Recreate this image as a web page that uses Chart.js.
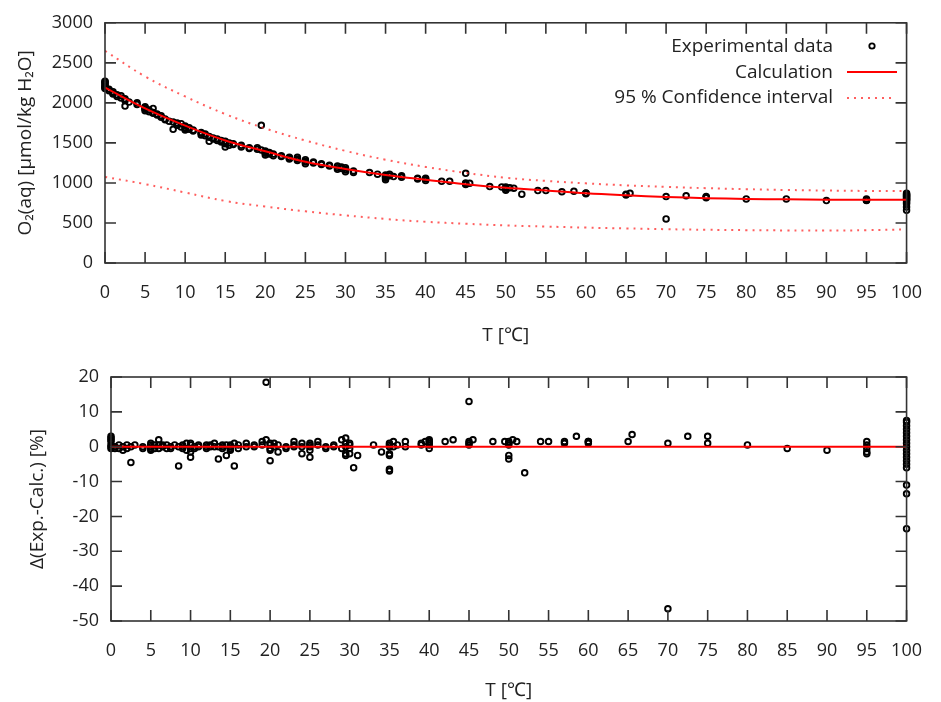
<!DOCTYPE html>
<html>
<head>
<meta charset="utf-8">
<script src="https://cdn.jsdelivr.net/npm/chart.js@4.4.0/dist/chart.umd.min.js"></script>
<style>
body { margin:0; background:#fff; width:941px; height:702px; overflow:hidden; }
#top { position:absolute; left:0; top:0; }
#bot { position:absolute; left:0; top:350px; }
</style>
</head>
<body>
<canvas id="top" width="941" height="350"></canvas>
<canvas id="bot" width="941" height="352"></canvas>
<script>
// courbe calculée + intervalle de confiance (tous les 5 °C)
const tempCalc = [0, 5, 10, 15, 20, 25, 30, 35, 40, 45, 50, 55, 60, 65, 70, 75, 80, 85, 90, 95, 100];
const o2Calc  = [2190, 1930, 1715, 1530, 1395, 1265, 1175, 1100, 1040, 985, 940, 905, 870, 845, 825, 810, 800, 795, 790, 790, 790];
const o2Upper = [2650, 2330, 2080, 1860, 1680, 1530, 1400, 1290, 1200, 1125, 1065, 1025, 995, 970, 950, 935, 922, 912, 905, 900, 898];
const o2Lower = [1075, 985, 880, 775, 705, 645, 595, 550, 515, 490, 470, 455, 442, 432, 422, 415, 410, 407, 405, 410, 420];

// données expérimentales (graph du haut)
const tempExp = [
  0, 0, 0, 0, 0, 0, 0, 0,
  0.5, 0.5, 1, 1, 1, 1.5, 1.5, 2, 2,
  2.5, 2.5, 2.5, 3, 4, 4,
  5, 5, 5, 5, 5, 5.5, 5.5,
  6, 6, 6, 6.5, 6.5, 7, 7, 7.5, 7.5, 8,
  8.5, 8.5, 9, 9, 9, 9.5, 9.5,
  10, 10, 10, 10, 10.5, 10.5, 11, 11,
  12, 12, 12, 12.5, 12.5, 13, 13, 13, 13.5, 13.5,
  14, 14, 14.5, 14.5, 15, 15, 15, 15, 15.5, 15.5,
  16, 16, 17, 17, 18, 18, 19, 19, 19.5, 19.5,
  20, 20, 20, 20, 20, 20.5, 20.5, 21, 21, 22, 22,
  23, 23, 23, 24, 24, 24, 25, 25, 25, 25,
  26, 26, 27, 27, 28, 28, 29, 29, 29, 29.5, 29.5,
  30, 30, 30, 30, 31, 31, 33, 34,
  35, 35, 35, 35, 35, 35, 35.5, 35.5, 36, 37, 37,
  39, 39, 40, 40, 40, 42, 43,
  45, 45, 45, 45, 45.5, 48, 49.5,
  50, 50, 50, 50, 50.5, 51, 52, 54, 55, 57, 58.5,
  60, 60, 60, 65, 65, 65.5, 70, 70, 72.5,
  75, 75, 75, 80, 85, 90, 95, 95, 95, 95,
  100, 100, 100, 100, 100, 100, 100, 100, 100, 100, 100, 100, 100, 100
];
const o2Exp = [
  2270, 2250, 2230, 2210, 2200, 2190, 2180, 2260,
  2170, 2150, 2140, 2120, 2110, 2100, 2080, 2090, 2060,
  1960, 2050, 2030, 2010, 2000, 1980,
  1950, 1930, 1920, 1900, 1940, 1910, 1890,
  1930, 1880, 1870, 1860, 1850, 1840, 1820, 1800, 1790, 1770,
  1670, 1760, 1750, 1730, 1720, 1740, 1700,
  1690, 1660, 1710, 1680, 1690, 1670, 1660, 1650,
  1630, 1620, 1600, 1610, 1590, 1580, 1520, 1570, 1560, 1550,
  1550, 1530, 1530, 1510, 1500, 1450, 1520, 1490, 1470, 1500,
  1490, 1480, 1470, 1450, 1440, 1430, 1420, 1440, 1720, 1410,
  1400, 1380, 1350, 1390, 1370, 1380, 1360, 1360, 1340, 1340, 1330,
  1320, 1310, 1300, 1300, 1280, 1320, 1290, 1260, 1240, 1270,
  1260, 1250, 1240, 1230, 1220, 1210, 1210, 1190, 1170, 1200, 1180,
  1190, 1160, 1140, 1170, 1150, 1130, 1130, 1110,
  1100, 1080, 1060, 1040, 1090, 1070, 1090, 1110, 1080, 1090, 1070,
  1060, 1050, 1050, 1030, 1060, 1020, 1020,
  1120, 990, 980, 1000, 995, 955, 950,
  950, 920, 910, 940, 940, 935, 860, 905, 905, 890, 895,
  870, 865, 875, 850, 860, 870, 830, 550, 840,
  820, 830, 815, 800, 800, 780, 800, 790, 785, 780,
  870, 860, 850, 840, 830, 820, 810, 800, 790, 780, 760, 740, 700, 660
];

// écarts exp.-calc. en % (graph du bas)
const tempDev = [
  0, 0, 0, 0, 0, 0, 0, 0.5, 0.5, 1, 1, 1.5, 1.5, 2, 2, 2.5, 2.5, 3, 4, 4,
  5, 5, 5, 5, 5, 5.5, 5.5, 6, 6, 6, 6.5, 6.5, 7, 7, 7.5, 7.5, 8,
  8.5, 8.5, 9, 9, 9, 9.5, 9.5, 10, 10, 10, 10, 10, 10.5, 10.5, 11, 11,
  12, 12, 12, 12.5, 12.5, 13, 13, 13.5, 13.5, 14, 14, 14, 14.5, 14.5,
  15, 15, 15, 15, 15.5, 15.5, 16, 16, 17, 17, 18, 18, 19, 19, 19.5, 19.5,
  20, 20, 20, 20, 20, 20.5, 20.5, 21, 21, 22, 22, 23, 23, 23, 24, 24, 24,
  25, 25, 25, 25, 25, 26, 26, 27, 27, 28, 28, 29, 29,
  29.5, 29.5, 29.5, 29.5, 29.5, 30, 30, 30, 30, 30.5, 31, 33, 34,
  35, 35, 35, 35, 35, 35, 35, 35.5, 35.5, 36, 37, 37, 39, 39, 39.5,
  40, 40, 40, 40, 40, 42, 43, 45, 45, 45, 45, 45.5, 48, 49.5,
  50, 50, 50, 50, 50, 50.5, 51, 52, 54, 55, 57, 57, 58.5, 60, 60, 60,
  65, 65.5, 70, 70, 72.5, 75, 75, 80, 85, 90, 95, 95, 95, 95, 95,
  100, 100, 100, 100, 100, 100, 100, 100, 100, 100, 100, 100, 100, 100, 100, 100, 100, 100
];
const devExp = [
  3, 2.5, 2, 1.5, 0.5, 0, -0.5, 0, -0.5, 0.5, -0.5, 0, -1, 0.5, -0.5, -4.5, 0, 0.5, 0, -0.5,
  1, 0, -0.5, -1, 0.5, 0.5, -0.5, 2, 0.5, -0.5, 0, 0.5, -0.5, 0.5, 0, -0.5, 0.5,
  -5.5, 0, 0.5, -0.5, 0, 1, -1, -3, -1.5, 0.5, -0.5, 1, 0, -0.5, 0.5, 0,
  0, -0.5, 0.5, 0, 0.5, 1, 0, -3.5, 0, 0, -0.5, 0.5, -2.5, 0.5,
  -1, 0, 0.5, -0.5, -5.5, 1, 0.5, -0.5, 1, 0, 0, 0.5, 1.5, 0.5, 18.5, 2,
  -4, -1, 0.5, -0.5, 1, 1, 0, 0.5, -1.5, 0, -0.5, 0.5, 1.5, 0, -2, 0, 1,
  -3, 1, 0, -1, 0.5, 0.5, 1.5, 0, -0.5, 0, 0.5, 2, -0.5,
  -2.5, -2, 1, 2.5, 0, -2, 0.5, 1, -0.5, -6, -2.5, 0.5, -1.5,
  -7, -6.5, -2, -2.5, 0, 0.5, 1, 1.5, 0, 0.5, 0, 1.5, 1, 0.5, 1.5,
  1, 0.5, 2, -0.5, 1.5, 1.5, 2, 13, 1.5, 1, 0.5, 2, 1.5, 1.5,
  -2.5, -3.5, 1, 0.5, 1.5, 2, 1.5, -7.5, 1.5, 1.5, 1.5, 1, 3, 1.5, 1, 1.5,
  1.5, 3.5, 1, -46.5, 3, 1, 3, 0.5, -0.5, -1, 1.5, 0.5, -0.5, -1.5, -2,
  7.5, 7, 6, 5, 4, 3, 2, 1, 0, -1, -2, -3, -4, -5, -6, -11, -13.5, -23.5
];

const legendLabels = ['Experimental data', 'Calculation', '95 % Confidence interval'];

Chart.defaults.font.family = "'Open Sans', sans-serif";
Chart.defaults.color = '#222';

const toPts = (xs, ys) => xs.map((x, i) => ({ x: x, y: ys[i] }));

// cadre + graduations vers l'intérieur sur les 4 côtés
const boxPlugin = {
  id: 'box',
  afterDraw(chart) {
    const { ctx, chartArea: a, scales: { x, y } } = chart;
    ctx.save();
    ctx.strokeStyle = '#333';
    ctx.lineWidth = 1.6;
    ctx.strokeRect(a.left, a.top, a.right - a.left, a.bottom - a.top);
    ctx.beginPath();
    x.ticks.forEach(t => {
      const px = x.getPixelForValue(t.value);
      ctx.moveTo(px, a.bottom); ctx.lineTo(px, a.bottom - 11);
      ctx.moveTo(px, a.top); ctx.lineTo(px, a.top + 11);
    });
    y.ticks.forEach(t => {
      const py = y.getPixelForValue(t.value);
      ctx.moveTo(a.left, py); ctx.lineTo(a.left + 11, py);
      ctx.moveTo(a.right, py); ctx.lineTo(a.right - 11, py);
    });
    ctx.stroke();
    ctx.restore();
  }
};

// légende à droite, texte aligné à droite puis symbole
const legendPlugin = {
  id: 'legendRight',
  afterDraw(chart) {
    const ctx = chart.ctx;
    ctx.save();
    ctx.font = "19px 'Open Sans', sans-serif";
    ctx.fillStyle = '#222';
    ctx.textAlign = 'right';
    ctx.textBaseline = 'middle';
    legendLabels.forEach((txt, i) => ctx.fillText(txt, 833, 47 + i * 25.5));
    ctx.strokeStyle = '#000';
    ctx.lineWidth = 1.8;
    ctx.beginPath(); ctx.arc(872, 46, 2.7, 0, Math.PI * 2); ctx.stroke();
    ctx.strokeStyle = '#ff0000';
    ctx.lineWidth = 2;
    ctx.beginPath(); ctx.moveTo(847, 72); ctx.lineTo(897, 72); ctx.stroke();
    ctx.strokeStyle = 'rgba(255,40,40,0.75)';
    ctx.setLineDash([2, 5]);
    ctx.beginPath(); ctx.moveTo(847, 98); ctx.lineTo(895, 98); ctx.stroke();
    ctx.restore();
  }
};

function axes(yMin, yMax, yStep, yTitle, yWidth, xHeight, yTitlePad, xTitlePad) {
  return {
    x: {
      type: 'linear', min: 0, max: 100,
      grid: { display: false, drawTicks: false }, border: { display: false },
      ticks: { stepSize: 5, padding: 19, font: { size: 18 }, color: '#222', callback: v => String(v) },
      title: { display: true, text: 'T [℃]', font: { size: 19 }, color: '#222', padding: { top: 0, bottom: xTitlePad } },
      afterFit: s => { s.height = xHeight; }
    },
    y: {
      min: yMin, max: yMax,
      grid: { display: false, drawTicks: false }, border: { display: false },
      ticks: { stepSize: yStep, padding: 12, font: { size: 18 }, color: '#222', callback: v => String(v) },
      title: { display: true, text: yTitle, font: { size: 19 }, color: '#222', padding: { top: yTitlePad, bottom: 0 } },
      afterFit: s => { s.width = yWidth; }
    }
  };
}

const commonOpts = {
  responsive: false,
  animation: false,
  events: [],
  plugins: { legend: { display: false }, tooltip: { enabled: false } }
};

const pointStyle = { pointRadius: 2.8, borderWidth: 1.9, borderColor: '#000', backgroundColor: 'rgba(0,0,0,0)', clip: false };

new Chart(document.getElementById('top'), {
  type: 'scatter',
  data: {
    datasets: [
      { label: legendLabels[1], data: toPts(tempCalc, o2Calc), showLine: true, borderColor: '#ff0000', borderWidth: 2, pointRadius: 0, tension: 0.4 },
      { label: legendLabels[2], data: toPts(tempCalc, o2Upper), showLine: true, borderColor: 'rgba(255,40,40,0.75)', borderWidth: 2, borderDash: [2, 5], pointRadius: 0, tension: 0.4 },
      { label: '', data: toPts(tempCalc, o2Lower), showLine: true, borderColor: 'rgba(255,40,40,0.75)', borderWidth: 2, borderDash: [2, 5], pointRadius: 0, tension: 0.4 },
      Object.assign({ label: legendLabels[0], data: toPts(tempExp, o2Exp) }, pointStyle)
    ]
  },
  options: Object.assign({
    layout: { padding: { top: 20, right: 22, left: 0, bottom: 0 } },
    scales: axes(0, 3000, 500, 'O₂(aq) [μmol/kg H₂O]', 105, 87, 14, 3)
  }, commonOpts),
  plugins: [boxPlugin, legendPlugin]
});

new Chart(document.getElementById('bot'), {
  type: 'scatter',
  data: {
    datasets: [
      { data: [{ x: 0, y: 0 }, { x: 100, y: 0 }], showLine: true, borderColor: '#ff0000', borderWidth: 2, pointRadius: 0 },
      Object.assign({ data: toPts(tempDev, devExp) }, pointStyle)
    ]
  },
  options: Object.assign({
    layout: { padding: { top: 27, right: 22, left: 0, bottom: 0 } },
    scales: axes(-50, 20, 10, 'Δ(Exp.-Calc.) [%]', 111, 81, 26, 0)
  }, commonOpts),
  plugins: [boxPlugin]
});
</script>
</body>
</html>
